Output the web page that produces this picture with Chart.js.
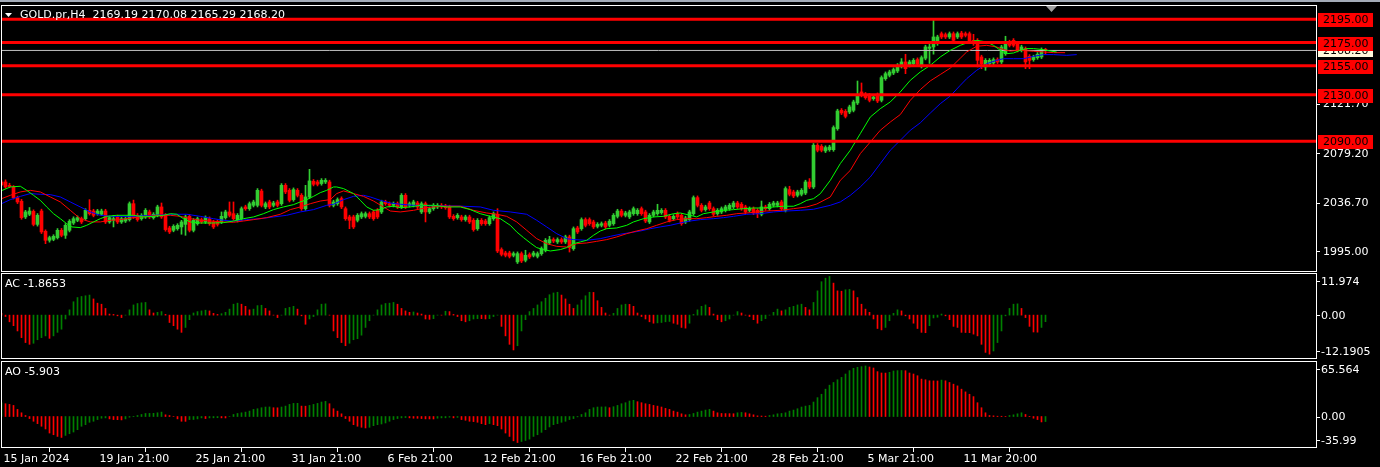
<!DOCTYPE html>
<html lang="en">
<head>
<meta charset="utf-8"/>
<title>GOLD.pr,H4</title>
<script src="https://cdn.jsdelivr.net/npm/chart.js@4.4.1/dist/chart.umd.min.js"></script>
<style>
  html, body { margin: 0; padding: 0; background: #000; width: 1380px; height: 467px; overflow: hidden; }
  .strip { position: absolute; left: 0; top: 0; width: 1380px; height: 2px; background: #a4acb8; }
  canvas { position: absolute; left: 0; }
  #main { top: 0; }
  #ac { top: 272px; }
  #ao { top: 360px; }
</style>
</head>
<body>
<div class="strip"></div>
<canvas id="main" width="1380" height="272"></canvas>
<canvas id="ac" width="1380" height="88"></canvas>
<canvas id="ao" width="1380" height="107"></canvas>
<script>
// ---- data (H4 bars, index 0 = 15 Jan 2024) ----
const symbol = 'GOLD.pr';
const period = 'H4';

const opens = [2055.0,2055.0,2052.1,2050.7,2041.5,2038.4,2024.9,2027.2,2029.7,2018.5,
2030.0,2012.5,2004.8,2005.6,2007.1,2013.4,2009.1,2013.4,2019.7,2022.0,
2023.4,2023.4,2030.6,2030.0,2027.7,2027.2,2030.0,2020.6,2022.0,2024.9,
2020.6,2021.4,2022.6,2036.3,2026.3,2023.4,2024.9,2029.2,2024.3,2026.3,
2033.5,2026.3,2015.4,2013.4,2014.8,2016.3,2018.5,2025.4,2013.4,2019.1,
2022.6,2020.6,2023.4,2020.6,2021.0,2020.6,2024.3,2029.2,2027.7,2022.0,
2023.4,2033.5,2032.0,2034.9,2034.9,2047.2,2033.5,2037.8,2034.9,2037.8,
2036.3,2052.1,2047.8,2039.8,2047.8,2043.5,2032.0,2042.1,2055.6,2055.0,
2053.6,2055.0,2055.0,2034.9,2036.3,2040.7,2032.0,2024.9,2024.9,2022.0,
2024.9,2025.4,2027.7,2029.2,2030.6,2029.2,2037.8,2036.3,2034.9,2036.3,
2033.5,2043.5,2034.9,2034.9,2036.9,2029.2,2036.3,2029.2,2032.0,2033.5,
2034.9,2034.3,2033.5,2025.4,2024.3,2024.9,2022.6,2024.9,2022.0,2014.8,
2022.0,2021.4,2019.1,2023.4,2027.2,1996.8,1993.9,1993.9,1991.9,1986.2,
1993.3,1987.6,1992.5,1991.9,1991.0,1993.3,1996.2,2002.5,2005.4,2003.4,
2005.4,2003.4,2007.7,1997.6,2015.4,2014.8,2022.6,2022.6,2020.6,2016.8,
2017.7,2019.7,2017.7,2019.1,2025.4,2030.0,2026.3,2024.9,2027.7,2027.7,
2032.0,2029.2,2020.6,2026.3,2027.7,2028.6,2030.6,2025.4,2023.4,2027.7,
2026.3,2020.6,2022.6,2027.7,2041.5,2034.9,2031.2,2036.9,2032.0,2027.7,
2029.2,2030.6,2032.0,2033.5,2036.9,2035.8,2033.5,2030.6,2032.0,2030.6,
2027.2,2033.5,2032.0,2034.9,2034.9,2037.8,2030.6,2048.4,2046.4,2043.5,
2044.4,2045.5,2055.0,2050.7,2086.6,2085.7,2081.7,2082.8,2082.8,2100.9,
2116.7,2115.8,2115.2,2116.7,2123.0,2132.5,2130.5,2129.6,2126.7,2128.7,
2125.3,2143.9,2146.8,2148.8,2150.5,2154.5,2158.3,2155.4,2156.8,2160.3,
2154.5,2161.5,2170.0,2171.2,2174.0,2182.6,2181.8,2179.8,2182.6,2179.8,
2183.2,2182.6,2182.6,2176.9,2176.9,2162.6,2154.0,2156.8,2157.4,2160.3,
2158.3,2165.4,2175.5,2176.9,2174.0,2168.3,2169.7,2163.1,2160.3,2162.0,
2162.6,2169.19];

const highs = [2056.5,2056.8,2053.9,2051.9,2042.8,2040.0,2030.6,2033.0,2031.0,2027.8,
2031.6,2013.8,2008.4,2009.6,2014.9,2015.0,2019.2,2022.6,2025.0,2025.8,
2024.8,2032.0,2039.8,2031.5,2031.4,2031.6,2031.5,2025.7,2026.3,2026.4,
2024.8,2024.9,2037.8,2039.4,2027.8,2027.7,2032.1,2030.8,2028.6,2035.0,
2036.9,2027.8,2016.9,2018.2,2019.1,2022.0,2026.4,2027.0,2023.5,2024.8,
2024.0,2025.8,2024.9,2022.0,2022.4,2029.2,2030.7,2037.8,2037.8,2027.8,
2033.5,2035.0,2037.8,2039.3,2049.3,2048.8,2037.8,2039.3,2038.4,2039.3,
2053.6,2053.6,2049.3,2049.9,2049.3,2045.0,2052.1,2065.9,2057.1,2056.5,
2057.9,2057.9,2056.5,2039.3,2041.3,2042.2,2033.5,2026.4,2026.4,2027.8,
2029.2,2029.2,2029.2,2030.7,2032.1,2039.3,2039.3,2037.8,2037.8,2037.8,
2045.0,2045.0,2037.8,2039.3,2038.4,2037.8,2037.8,2033.5,2036.4,2036.4,
2036.4,2035.8,2035.0,2026.9,2027.8,2026.4,2026.4,2026.4,2023.5,2023.5,
2023.5,2022.9,2025.8,2029.2,2032.0,1998.3,1995.4,1995.4,1994.8,1994.8,
1994.8,1996.2,1994.0,1995.4,1994.8,1999.1,2006.3,2008.2,2006.9,2006.9,
2006.9,2009.2,2009.2,2016.3,2016.9,2024.1,2024.1,2024.1,2022.1,2020.0,
2020.6,2021.2,2022.7,2027.8,2031.5,2031.5,2029.8,2030.7,2033.5,2032.1,
2033.5,2030.7,2027.8,2030.7,2035.8,2032.1,2032.1,2026.9,2026.9,2029.2,
2027.8,2025.5,2030.7,2043.0,2043.0,2036.4,2035.0,2038.4,2033.5,2032.1,
2033.5,2035.0,2036.4,2038.4,2038.4,2037.3,2035.0,2033.5,2033.5,2032.1,
2038.6,2035.0,2037.3,2038.4,2038.4,2039.3,2050.8,2051.3,2047.9,2047.9,
2049.3,2056.5,2057.9,2088.1,2088.1,2087.2,2086.1,2086.6,2103.3,2117.6,
2118.2,2117.3,2121.1,2125.4,2141.9,2140.2,2132.0,2131.1,2129.6,2131.6,
2146.3,2149.7,2151.2,2153.2,2156.9,2161.2,2164.9,2159.8,2161.2,2161.8,
2163.5,2172.7,2175.0,2195.6,2181.3,2184.1,2183.3,2184.1,2184.1,2184.1,
2184.7,2184.1,2184.1,2182.1,2178.4,2164.1,2161.2,2161.2,2161.8,2161.8,
2172.7,2180.4,2177.0,2178.4,2175.5,2172.7,2171.2,2164.6,2164.1,2166.4,
2170.4,2170.08];

const lows = [2051.8,2049.6,2050.2,2040.3,2036.4,2022.9,2023.5,2026.0,2017.2,2017.0,
2010.6,2001.9,2003.2,2004.4,2005.9,2007.8,2006.4,2012.0,2018.4,2020.8,
2019.2,2022.0,2026.5,2025.0,2026.4,2026.0,2019.2,2019.4,2016.3,2019.2,
2019.3,2020.1,2021.3,2023.6,2021.2,2022.1,2023.6,2023.5,2023.0,2025.0,
2023.6,2012.6,2010.6,2012.1,2013.5,2010.0,2009.1,2012.0,2012.0,2017.8,
2019.2,2019.2,2017.7,2014.9,2017.0,2019.2,2023.0,2024.9,2022.0,2020.6,
2022.0,2030.6,2030.6,2033.5,2033.5,2033.5,2032.0,2032.0,2033.5,2033.5,
2034.9,2044.9,2037.8,2038.4,2042.1,2030.6,2030.6,2040.7,2051.6,2051.6,
2052.2,2053.6,2033.5,2033.5,2034.9,2032.0,2022.0,2014.8,2014.9,2020.6,
2023.5,2024.0,2023.5,2022.0,2023.5,2027.8,2034.9,2033.5,2033.5,2032.1,
2032.1,2032.1,2033.5,2033.5,2032.1,2027.8,2020.6,2027.8,2030.6,2032.1,
2032.1,2031.5,2023.5,2022.0,2022.9,2021.2,2021.2,2019.2,2012.6,2013.4,
2017.7,2017.7,2017.7,2022.0,1994.2,1991.3,1990.5,1989.6,1990.5,1984.8,
1985.6,1986.2,1989.1,1990.5,1989.6,1991.9,1994.8,2001.1,2002.8,2002.0,
2002.0,2002.0,1994.7,1996.2,2010.6,2013.4,2016.3,2017.7,2014.9,2015.4,
2016.3,2014.9,2016.3,2017.7,2024.0,2024.9,2024.9,2023.5,2026.3,2026.3,
2026.3,2020.0,2019.2,2024.9,2026.3,2027.2,2023.5,2020.6,2022.0,2023.5,
2017.7,2019.2,2021.2,2026.3,2033.5,2029.2,2029.8,2030.6,2025.8,2026.3,
2027.8,2029.2,2030.6,2032.1,2032.1,2030.6,2027.8,2029.2,2026.9,2024.3,
2025.8,2030.6,2030.6,2033.5,2033.5,2030.6,2029.2,2043.0,2041.5,2042.1,
2043.0,2044.1,2049.3,2049.3,2080.9,2080.9,2080.3,2081.4,2081.4,2099.5,
2113.0,2110.1,2113.8,2115.3,2121.6,2128.2,2126.2,2123.9,2125.3,2123.3,
2123.9,2142.5,2145.4,2147.4,2149.1,2153.1,2148.2,2154.0,2155.4,2154.9,
2153.1,2160.1,2157.0,2165.0,2172.6,2178.4,2178.4,2178.4,2175.5,2178.4,
2178.4,2179.8,2174.1,2172.6,2154.0,2152.5,2151.1,2155.4,2156.0,2156.9,
2156.9,2164.0,2171.2,2171.2,2166.9,2166.9,2152.5,2152.5,2158.9,2160.6,
2161.2,2165.29];

const closes = [2052.5,2050.7,2051.0,2041.5,2037.8,2024.3,2029.2,2030.0,2018.5,2026.3,
2012.0,2004.8,2007.1,2008.2,2013.4,2009.1,2017.7,2021.2,2023.4,2024.3,
2020.6,2030.6,2027.7,2026.3,2030.0,2030.0,2020.6,2024.3,2023.4,2020.6,
2023.4,2023.4,2036.3,2024.9,2022.6,2026.3,2030.6,2024.9,2027.2,2033.5,
2024.9,2014.0,2012.0,2016.8,2017.7,2020.6,2024.9,2013.4,2022.0,2023.4,
2020.6,2024.3,2019.1,2016.3,2018.5,2025.4,2029.2,2026.3,2023.4,2026.3,
2032.0,2032.0,2036.3,2037.8,2047.8,2034.9,2036.3,2033.5,2036.9,2034.9,
2052.1,2046.4,2039.2,2048.4,2043.5,2032.0,2042.1,2055.9,2053.0,2053.0,
2056.4,2056.4,2034.9,2037.8,2039.8,2033.5,2023.4,2022.0,2016.3,2026.3,
2027.7,2027.7,2024.9,2023.4,2024.9,2037.8,2036.3,2034.9,2036.3,2033.5,
2043.5,2033.5,2036.3,2037.8,2033.5,2036.3,2029.2,2032.0,2034.9,2034.9,
2033.5,2032.9,2024.9,2023.4,2026.3,2022.6,2024.9,2020.6,2014.0,2022.0,
2019.1,2019.1,2024.3,2027.7,1995.6,1992.7,1991.9,1991.0,1993.3,1993.3,
1987.0,1991.9,1990.5,1993.9,1993.3,1997.6,2004.8,2005.4,2004.2,2005.4,
2003.4,2007.7,1998.5,2014.8,2012.0,2022.6,2017.7,2019.1,2016.3,2018.5,
2019.1,2016.3,2021.2,2026.3,2030.0,2026.3,2028.3,2029.2,2032.0,2030.6,
2027.7,2021.4,2026.3,2029.2,2030.6,2030.6,2024.9,2022.0,2025.4,2024.9,
2019.1,2024.0,2029.2,2041.5,2034.9,2030.6,2033.5,2032.0,2027.2,2030.6,
2032.0,2033.5,2034.9,2036.9,2033.5,2032.0,2029.2,2032.0,2028.3,2027.7,
2033.5,2032.0,2035.8,2036.9,2036.9,2032.0,2049.3,2044.4,2042.9,2046.4,
2047.8,2055.0,2050.7,2086.6,2082.3,2082.3,2084.6,2085.1,2101.8,2116.1,
2114.4,2111.5,2119.6,2123.9,2130.2,2129.6,2127.6,2125.3,2128.1,2124.7,
2144.8,2148.2,2149.7,2151.7,2155.4,2158.3,2152.5,2158.3,2159.7,2156.3,
2162.0,2171.2,2171.2,2179.8,2179.8,2179.8,2179.8,2182.6,2176.9,2182.6,
2179.8,2181.2,2175.5,2174.0,2159.7,2156.8,2159.7,2159.7,2160.3,2158.3,
2171.2,2175.5,2172.6,2172.6,2168.3,2171.2,2158.3,2159.7,2162.6,2164.9,
2168.9,2168.20];

// Alligator lines as [bar, price] points (already shifted forward)
const jawPts = [[0,2036.3],[2.2,2039.8],[4.7,2042.6],[7.2,2045.0],[9.7,2044.4],[12.2,2044.1],[14.7,2042.1],[17.2,2037.8],[19.7,2033.5],[22.2,2029.2],[24.7,2026.3],[27.2,2025.4],[33,2025.4],[36.3,2026.0],[39.7,2026.6],[43,2027.2],[46.3,2027.2],[49.7,2025.4],[53,2023.4],[55.5,2022.0],[58,2021.2],[61.3,2022.6],[64.7,2023.4],[68,2024.9],[71.3,2026.3],[74.7,2029.2],[78,2031.2],[81.3,2034.9],[83,2035.8],[85.5,2039.8],[88,2042.6],[90.5,2043.5],[92.2,2042.1],[94.7,2039.2],[97.2,2036.9],[99.7,2035.8],[103,2034.9],[106.3,2034.6],[114.7,2034.2],[119.7,2033.5],[123,2030.6],[127.2,2029.2],[131.3,2027.2],[133.8,2022.0],[136.3,2016.3],[138.8,2010.5],[141.3,2006.2],[143,2005.4],[146.3,2004.8],[149.7,2006.2],[152.2,2008.2],[154.7,2010.0],[157.2,2011.4],[159.7,2012.8],[162.2,2014.8],[164.7,2016.3],[167.2,2017.7],[169.7,2019.7],[172.2,2021.4],[174.7,2022.6],[178,2023.4],[180.5,2024.3],[183,2025.4],[186.3,2027.2],[189.7,2027.7],[193,2029.2],[196.3,2030.0],[199.7,2030.6],[203,2031.5],[207.2,2034.9],[209.7,2037.8],[212.2,2043.5],[214.7,2050.7],[217.2,2059.3],[219.7,2070.8],[222.2,2082.3],[224.7,2090.9],[227.2,2099.5],[229.7,2105.9],[232.2,2114.3],[234.7,2122.4],[237.2,2129.0],[239.7,2138.2],[241.3,2143.9],[243.8,2151.1],[246.3,2156.8],[248.8,2159.7],[250.5,2161.1],[253,2161.1],[255.5,2161.1],[258,2163.1],[260.5,2164.6],[263,2164.6],[266.3,2164.0],[268.8,2164.6]];

const teethPts = [[0,2040.6],[2.2,2043.5],[4.7,2046.4],[7.2,2047.8],[9.7,2046.4],[12.2,2042.1],[14.7,2037.8],[17.2,2030.6],[19.7,2023.4],[22.2,2020.6],[24.7,2020.6],[27.2,2022.0],[29.7,2022.6],[33,2024.3],[36.3,2025.4],[39.7,2026.3],[42.2,2026.3],[44.7,2025.4],[47.2,2023.4],[49.7,2022.0],[53,2021.2],[55.5,2020.6],[58,2020.3],[60.5,2021.4],[63,2022.6],[66.3,2024.3],[69.7,2027.2],[72.2,2031.2],[74.7,2033.5],[77.2,2036.3],[79.7,2038.6],[82.2,2039.8],[83.8,2045.0],[85.5,2047.3],[88,2045.0],[90.5,2042.6],[93,2038.6],[95.5,2033.5],[97.2,2030.0],[99.7,2029.2],[103,2030.6],[106.3,2032.9],[109.7,2034.1],[114.7,2034.1],[118,2030.6],[121.3,2028.3],[123.8,2027.2],[126.3,2025.4],[128.8,2020.6],[131.3,2013.4],[133.8,2006.2],[136.3,2001.9],[138.8,1999.6],[141.3,1999.0],[143.8,2001.9],[146.3,2002.5],[148.8,2003.9],[151.3,2005.4],[153.8,2007.7],[156.3,2010.5],[158.8,2012.8],[161.3,2014.8],[163.8,2017.7],[166.3,2020.6],[168.8,2022.6],[171.3,2023.4],[173.8,2023.4],[176.3,2024.3],[178.8,2025.4],[181.3,2026.3],[183.8,2027.7],[186.3,2028.3],[188.8,2029.2],[191.3,2030.0],[194.7,2030.6],[198,2032.0],[201.3,2033.5],[203.8,2036.0],[207.2,2042.1],[209.7,2056.4],[212.2,2065.0],[214.7,2079.4],[217.2,2089.4],[219.7,2099.5],[222.2,2106.6],[224.7,2113.0],[227.2,2125.3],[229.7,2134.5],[232.2,2142.0],[234.7,2147.5],[237.2,2153.0],[239.7,2161.5],[241.3,2166.9],[243.8,2171.8],[246.3,2172.6],[248.8,2171.2],[250.5,2168.9],[252.2,2167.7],[254.7,2168.3],[258,2167.5],[260.5,2166.9],[263,2166.3],[265.9,2166.3]];

const lipsPts = [[0,2047.5],[2.2,2050.7],[4.7,2051.3],[6.3,2047.8],[8,2043.5],[9.7,2039.2],[11.3,2033.5],[13,2027.7],[14.7,2023.4],[16.3,2019.1],[17.6,2016.3],[19.7,2015.7],[21.3,2017.7],[23,2020.6],[24.7,2023.4],[26.3,2025.4],[28.8,2026.3],[33,2026.3],[35.5,2024.9],[38,2025.4],[40.5,2026.3],[42.2,2027.7],[43.8,2027.2],[45.5,2023.4],[47.2,2020.6],[49.7,2019.7],[53,2019.7],[55.5,2020.0],[58,2021.4],[60.5,2023.4],[63,2024.9],[65.5,2027.7],[68,2031.2],[70.5,2033.5],[73,2035.5],[74.7,2037.8],[76.3,2039.8],[78,2042.6],[79.7,2045.8],[81.3,2047.8],[83,2050.7],[83.8,2050.7],[85.5,2049.3],[88,2045.0],[89.7,2039.2],[91.3,2033.5],[93,2030.6],[94.7,2031.2],[96.3,2033.5],[98,2034.1],[99.7,2032.9],[102.2,2033.5],[104.7,2034.9],[108,2034.9],[111.3,2033.5],[114.7,2033.5],[117.2,2031.2],[119.7,2027.7],[122.2,2025.4],[124.7,2023.4],[127.2,2017.7],[128.8,2012.0],[130.5,2007.1],[132.2,2002.5],[133.8,1998.5],[135.5,1996.8],[137.2,1995.6],[139.7,1996.8],[141.3,1998.5],[143,2001.9],[144.7,2003.4],[146.3,2004.8],[148,2009.1],[149.7,2012.8],[151.3,2014.8],[153.8,2015.4],[156.3,2017.7],[158,2020.6],[160.5,2023.4],[163,2024.9],[165.5,2025.4],[168,2027.7],[169.7,2028.3],[172.2,2026.3],[173.8,2024.9],[175.5,2027.7],[178,2029.2],[180.5,2030.6],[183,2031.2],[185.5,2032.0],[188,2032.6],[190.5,2032.6],[193,2033.5],[195.5,2034.1],[198,2034.1],[199.7,2036.3],[201.3,2039.2],[203,2040.6],[204.7,2044.9],[207.2,2056.4],[209.7,2070.8],[212.2,2082.3],[214.7,2096.6],[217.2,2110.9],[219.7,2118.1],[222.2,2123.9],[224.7,2132.5],[227.2,2142.5],[229.7,2149.7],[232.2,2155.4],[234.7,2162.6],[237.2,2168.3],[239.7,2172.6],[241.3,2174.6],[243.8,2176.9],[246.3,2175.5],[248,2172.6],[249.7,2168.3],[251.3,2165.4],[253,2166.0],[254.7,2168.3],[256.3,2169.8],[258,2169.8],[260.5,2168.9],[262.2,2167.7],[263.8,2166.9]];

const acValues = [0.5,-0.4,-1.9,-3.0,-4.5,-6.4,-7.8,-8.3,-8.0,-7.0,
-6.4,-5.9,-6.6,-5.9,-4.9,-4.0,-1.1,1.5,3.8,5.0,
5.3,5.5,5.7,4.6,3.4,3.1,1.9,0.3,0.2,-0.2,
-0.7,0,1.5,2.9,3.3,3.5,3.6,1.5,0.6,0.8,
1.0,0.2,-2.1,-3.0,-4.0,-4.9,-3.5,-1.3,0.6,1.0,
1.2,1.4,1.2,0.5,0.2,0.4,0.8,1.7,3.1,3.4,
3.1,2.5,1.5,1.7,2.7,2.8,1.9,1.2,0,-0.7,
0,1.9,2.2,2.5,1.7,-0.2,-2.6,-1.1,-0.4,1.5,
3.1,3.2,0,-4.5,-6.4,-7.8,-8.7,-8.0,-7.0,-6.7,
-5.7,-3.5,-1.6,0,1.5,2.9,3.3,3.4,3.6,3.1,
1.9,1.2,0.8,0.9,0.6,0.3,-1.1,-1.2,-1.0,0,
0,1.1,1.0,0.2,-0.4,-1.6,-1.9,-1.6,-1.1,-1.0,
-1.0,-1.1,-1.0,-0.4,0,-3.2,-5.9,-8.3,-9.9,-8.7,
-4.5,-1.3,1.0,1.9,2.9,3.8,4.8,5.8,6.3,6.5,
5.7,4.6,3.1,1.9,2.9,4.3,5.5,6.5,6.45,4.1,
2.2,0.6,0,0.5,1.9,2.9,3.1,3.05,2.5,0.6,
-0.4,-1.1,-1.9,-2.3,-2.2,-2.1,-1.9,-1.8,-2.3,-2.6,
-3.5,-3.7,-2.3,0.2,1.5,2.5,2.9,2.2,0.3,-1.3,
-1.9,-1.6,-1.1,0,1.0,0.6,0,-0.4,-1.3,-2.3,
-1.6,-1.0,0,0.8,1.7,1.2,1.5,2.2,2.5,2.9,
3.1,2.2,1.5,3.6,6.9,9.5,10.5,11.0,9.1,6.9,
6.8,7.2,7.3,6.9,5.0,3.1,1.7,0.8,-1.1,-3.8,
-4.2,-3.5,-1.6,0.5,1.5,1.2,-0.2,-1.1,-2.3,-3.8,
-4.9,-5.0,-3.0,-0.8,-0.6,0.3,-0.2,-1.3,-3.2,-3.5,
-4.9,-4.95,-5.0,-5.4,-5.9,-8.3,-10.6,-11.1,-10.2,-7.8,
-4.5,-0.2,1.9,3.1,3.2,1.9,-0.7,-3.2,-4.8,-4.85,
-3.5,-1.8653];

const aoValues = [16.3,15.1,14.3,13.1,8.4,4.4,1.2,-2.4,-5.6,-8.4,
-11.5,-14.7,-19.5,-21.5,-23.5,-24.7,-22.3,-20.3,-18.3,-15.5,
-11.5,-9.6,-6.8,-5.6,-3.6,-2.0,-1.6,-2.8,-3.6,-3.7,
-4.0,-2.8,-0.8,0.2,1.2,2.4,3.6,3.7,3.8,4.4,
5.2,2.0,1.2,0,-2.8,-5.6,-5.7,-3.6,-3.5,-2.8,
-1.6,-2.4,-1.6,-1.5,-1.4,-1.6,-1.7,0,2.4,3.6,
4.4,5.2,6.4,8.4,9.2,10.4,11.2,11.3,10.4,10.3,
11.2,12.3,14.3,15.5,15.6,12.3,12.2,13.1,14.3,15.5,
17.1,17.9,15.1,9.2,6.4,3.2,-2.4,-5.6,-9.6,-11.5,
-12.7,-13.5,-12.7,-10.8,-9.6,-8.8,-7.6,-5.6,-3.6,-2.4,
-1.6,-1.2,-1.6,-2.0,-2.1,-2.4,-2.8,-2.85,-2.9,-2.0,
-1.6,-1.5,-0.8,-1.6,-1.0,-3.6,-4.4,-5.6,-6.0,-6.8,
-8.4,-9.6,-8.4,-9.6,-10.8,-14.7,-19.5,-23.5,-28.7,-30.7,
-29.5,-28.3,-26.7,-23.5,-21.5,-18.7,-15.5,-12.3,-9.6,-8.4,
-6.8,-5.6,-3.6,-2.4,-0.4,2.4,4.4,8.4,10.4,11.2,
11.3,11.4,10.4,11.6,13.1,15.1,16.3,18.3,19.1,17.5,
16.3,15.1,14.3,13.1,12.3,11.2,9.6,8.4,6.4,5.2,
3.2,2.0,2.4,3.6,5.2,6.4,7.6,8.4,6.4,4.4,
3.6,3.5,3.4,3.3,4.4,4.8,4.4,3.2,2.0,0.8,
0.6,0.4,1.2,2.0,3.2,3.6,4.4,6.4,7.6,9.2,
11.2,12.3,13.1,17.1,22.3,26.3,32.3,37.0,40.2,43.4,
46.2,50.2,54.2,56.9,58.1,58.9,59.7,58.5,57.3,53.0,
51.4,51.3,52.2,53.8,54.2,54.3,54.1,51.4,50.2,48.2,
44.2,43.4,42.2,42.1,42.0,43.0,42.2,40.2,38.2,36.2,
32.3,29.1,26.3,23.5,16.3,10.4,4.4,1.2,0.8,0.4,
0.35,0.1,1.2,2.0,3.2,4.4,2.4,0.2,-2.0,-3.6,
-6.4,-5.903];

const levels = [2195, 2175, 2155, 2130, 2090];
const priceTicks = [2121.70, 2079.20, 2036.70, 1995.00];
const acTicks = [11.974, 0, -12.1905];
const acTickLabels = ['11.974', '0.00', '-12.1905'];
const aoTicks = [65.564, 0, -35.99];
const aoTickLabels = ['65.564', '0.00', '-35.99'];
const timeTickBars = [0, 24, 48, 72, 96, 120, 144, 168, 192, 216, 240];
const timeTickLabels = ['15 Jan 2024', '19 Jan 21:00', '25 Jan 21:00', '31 Jan 21:00', '6 Feb 21:00',
  '12 Feb 21:00', '16 Feb 21:00', '22 Feb 21:00', '28 Feb 21:00', '5 Mar 21:00', '11 Mar 20:00'];

// ---- drawing ----
const FONT = "'DejaVu Sans', sans-serif";
Chart.defaults.font.family = FONT;
Chart.defaults.font.size = 11;
Chart.defaults.color = '#ffffff';

const X_MIN = -0.125, X_MAX = 328.625;   // 4 px per bar
const UP = '#32cd32', DOWN = '#ff0000';
const last = closes.length - 1;
const lastClose = closes[last];
const isUp = i => closes[i] >= opens[i];

const headerText = `${symbol},${period}  ${opens[last].toFixed(2)} ${highs[last].toFixed(2)} ${lows[last].toFixed(2)} ${closes[last].toFixed(2)}`;

function frame(ctx, a) {
  ctx.strokeStyle = '#ffffff';
  ctx.lineWidth = 1;
  ctx.strokeRect(a.left + 0.5, a.top + 0.5, a.right - a.left, a.bottom - a.top);
}

const mainDecor = {
  id: 'mainDecor',
  afterDraw(chart) {
    const { ctx, chartArea: a, scales: { y } } = chart;
    ctx.save();
    frame(ctx, a);
    // chart shift marker
    ctx.fillStyle = '#a0a0a0';
    ctx.beginPath();
    ctx.moveTo(1046, a.top + 1); ctx.lineTo(1057, a.top + 1); ctx.lineTo(1051.5, a.top + 7);
    ctx.closePath(); ctx.fill();
    // header
    ctx.fillStyle = '#ffffff';
    ctx.beginPath();
    ctx.moveTo(5, 13); ctx.lineTo(12, 13); ctx.lineTo(8.5, 17);
    ctx.closePath(); ctx.fill();
    ctx.font = '11px ' + FONT;
    ctx.textBaseline = 'middle';
    ctx.textAlign = 'left';
    ctx.fillText(headerText, 20, 15);
    // bid label
    const yb = Math.round(y.getPixelForValue(lastClose));
    ctx.fillStyle = '#fff8dc';
    ctx.fillRect(a.right + 2, yb - 6, 55, 13);
    ctx.fillStyle = '#000000';
    ctx.fillText(lastClose.toFixed(2), a.right + 7, yb + 1);
    // level labels
    levels.forEach(v => {
      const yl = Math.round(y.getPixelForValue(v));
      ctx.fillStyle = '#ff0000';
      ctx.fillRect(a.right + 2, yl - 6, 55, 14);
      ctx.fillStyle = '#000000';
      ctx.fillText(v.toFixed(2), a.right + 7, yl + 1);
    });
    ctx.restore();
  }
};

function subDecor(title, ticks, labels) {
  return {
    id: 'subDecor',
    afterDraw(chart) {
      const { ctx, chartArea: a, scales: { y } } = chart;
      ctx.save();
      frame(ctx, a);
      ctx.fillStyle = '#ffffff';
      ctx.font = '11px ' + FONT;
      ctx.textBaseline = 'middle';
      ctx.textAlign = 'left';
      ctx.fillText(title, 5, a.top + 11);
      ticks.forEach((v, i) => {
        let yy = y.getPixelForValue(v);
        yy = Math.min(Math.max(yy, a.top + 8), a.bottom - 7);
        ctx.fillRect(a.right + 1, Math.round(yy), 3, 1);
        ctx.fillText(labels[i], a.right + 5, yy + 1);
      });
      ctx.restore();
    }
  };
}

const lineDs = (pts, color, order) => ({
  type: 'line', data: pts.map(([x, y]) => ({ x, y })), borderColor: color, borderWidth: 1,
  pointRadius: 0, tension: 0, fill: false, order
});

const levelDs = levels.map(v => ({
  type: 'line', data: [{ x: X_MIN, y: v }, { x: X_MAX, y: v }],
  borderColor: '#ff0000', borderWidth: 3, pointRadius: 0, fill: false, order: 0
}));

new Chart(document.getElementById('main'), {
  type: 'bar',
  data: {
    datasets: [
      ...levelDs,
      lineDs(lipsPts, '#00ff00', 1),
      lineDs(teethPts, '#ff0000', 1),
      lineDs(jawPts, '#0000ff', 1),
      { type: 'line', data: [{ x: X_MIN, y: lastClose }, { x: X_MAX, y: lastClose }],
        borderColor: '#c0c0c0', borderWidth: 1, pointRadius: 0, fill: false, order: 2 },
      { data: opens.map((o, i) => ({ x: i, y: [o, closes[i]] })), barThickness: 3, grouped: false,
        backgroundColor: c => isUp(c.dataIndex) ? UP : DOWN, order: 3 },
      { data: highs.map((h, i) => ({ x: i, y: [lows[i], h] })), barThickness: 1, grouped: false,
        backgroundColor: c => isUp(c.dataIndex) ? UP : DOWN, order: 4 }
    ]
  },
  options: {
    responsive: false, devicePixelRatio: 1, animation: false, events: [],
    layout: { padding: { top: 5, left: 1, right: 0, bottom: 1 } },
    plugins: { legend: { display: false }, tooltip: { enabled: false } },
    scales: {
      x: { type: 'linear', min: X_MIN, max: X_MAX, offset: false, display: false },
      y: {
        type: 'linear', position: 'right', min: 1978.37, max: 2207.31,
        afterFit: s => { s.width = 64; s.paddingTop = 0; s.paddingBottom = 0; },
        afterBuildTicks: s => { s.ticks = priceTicks.map(v => ({ value: v })); },
        grid: { drawOnChartArea: false, drawTicks: true, tickLength: 4, color: '#ffffff' },
        border: { display: false },
        ticks: { color: '#ffffff', padding: 3, autoSkip: false, callback: v => Number(v).toFixed(2) }
      }
    }
  },
  plugins: [mainDecor]
});

function histChart(id, values, yMin, yMax, showX, firstUp, title, ticks, labels) {
  const xScale = { type: 'linear', min: X_MIN, max: X_MAX, offset: false, display: showX };
  if (showX) {
    Object.assign(xScale, {
      position: 'bottom',
      afterFit: s => { s.height = 20; s.paddingLeft = 0; s.paddingRight = 0; },
      afterBuildTicks: s => { s.ticks = timeTickBars.map(v => ({ value: v })); },
      grid: { drawOnChartArea: false, drawTicks: true, tickLength: 5, color: '#ffffff' },
      border: { display: false },
      ticks: { autoSkip: false, maxRotation: 0, align: 'start', labelOffset: 2, padding: 1,
        color: '#ffffff', callback: (v, i) => timeTickLabels[i] }
    });
  }
  new Chart(document.getElementById(id), {
    type: 'bar',
    data: {
      datasets: [{
        data: values.map((v, i) => ({ x: i, y: v })), barThickness: 1,
        backgroundColor: c => {
          const i = c.dataIndex;
          const up = i === 0 ? firstUp : values[i] > values[i - 1];
          return up ? '#008000' : '#ff0000';
        }
      }]
    },
    options: {
      responsive: false, devicePixelRatio: 1, animation: false, events: [],
      layout: { padding: { top: 1, left: 1, right: 64, bottom: showX ? 0 : 2 } },
      plugins: { legend: { display: false }, tooltip: { enabled: false } },
      scales: { x: xScale, y: { type: 'linear', min: yMin, max: yMax, display: false } }
    },
    plugins: [subDecor(title, ticks, labels)]
  });
}

histChart('ac', acValues, -12.1905, 11.974, false, false,
  'AC ' + acValues[last].toFixed(4), acTicks, acTickLabels);
histChart('ao', aoValues, -35.99, 65.564, true, true,
  'AO ' + aoValues[last].toFixed(3), aoTicks, aoTickLabels);
</script>
</body>
</html>
